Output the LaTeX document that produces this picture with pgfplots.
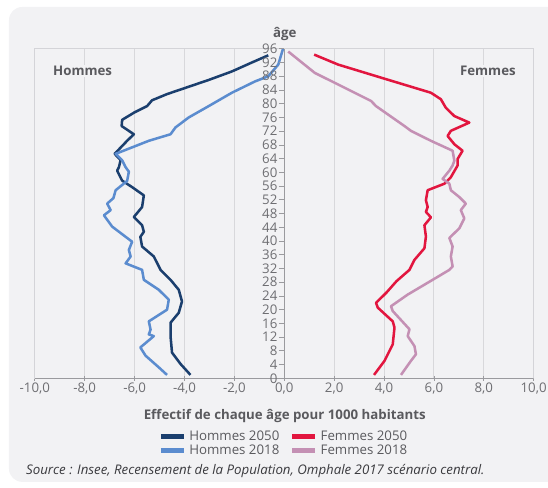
\documentclass[border=0pt]{standalone}
\usepackage{fontspec}
\setmainfont{Open Sans}
\usepackage{pgfplots}
\pgfplotsset{compat=1.18}
\definecolor{homA}{HTML}{1B3F6E}
\definecolor{homB}{HTML}{5B8CCF}
\definecolor{femA}{HTML}{E2163F}
\definecolor{femB}{HTML}{C490B4}
\definecolor{panel}{HTML}{F2F2F4}
\definecolor{gridc}{HTML}{D8D8DB}
\definecolor{framec}{HTML}{D4D4D8}
\definecolor{axisc}{HTML}{9A9A9E}
\definecolor{tickc}{HTML}{6E6E72}
\definecolor{labc}{HTML}{5A5A5E}
\definecolor{srcc}{HTML}{3A3A3E}
\begin{document}
\begin{tikzpicture}
\begin{scope}[x=0.75pt,y=-0.75pt,yshift=367.5pt]
\useasboundingbox (0,0) rectangle (548,490);
\fill[panel, rounded corners=10pt] (9,7) rectangle (575,484);
\end{scope}
\begin{axis}[
  at={(26.25pt,82.5pt)}, anchor=south west, scale only axis,
  width=375.75pt, height=248.25pt,
  xmin=-10, xmax=10, ymin=0, ymax=96,
  axis line style={draw=framec, line width=0.6pt},
  xtick={-10,-8,...,10},
  xticklabels={{-10,0},{-8,0},{-6,0},{-4,0},{-2,0},{0,0},{2,0},{4,0},{6,0},{8,0},{10,0}},
  ytick=\empty,
  xtick pos=bottom,
  tick align=center, major tick length=4pt,
  x tick style={draw=axisc, line width=0.6pt},
  xticklabel style={font=\fontsize{10}{12}\selectfont, text=tickc, inner sep=1pt},
  xmajorgrids, grid style={draw=gridc, line width=0.7pt},
  legend columns=2,
  legend cell align=left,
  legend style={draw=none, fill=none, at={(0.5,-0.15)}, anchor=north,
    font=\fontsize{10}{12}\selectfont, text=labc, inner sep=0pt,
    column sep=0.5pt, row sep=-2pt,
    /tikz/every even column/.append style={column sep=6pt}},
  legend image code/.code={\draw[line width=3.6pt] (0pt,0pt) -- (17pt,0pt);},
  every axis plot/.append style={line width=1.9pt, line join=round},
]
\addplot[homA] coordinates {
(-0.64,94.1) (-1.3,92) (-2.1,89.4) (-3.0,87) (-3.97,84.6) (-4.7,82.8) (-5.3,81)
(-5.5,79.3) (-6.0,77.5) (-6.5,75.3) (-6.52,73.5) (-6.03,71.1) (-6.3,69.2)
(-6.8,65.4) (-6.56,63.6) (-6.63,61.5) (-6.7,60.5) (-6.5,57.6) (-6.1,55.7)
(-5.63,53.3) (-5.7,49.9) (-6.03,47) (-5.7,44.6) (-5.63,42.7) (-5.77,41.2)
(-5.7,38.4) (-5.23,35.5) (-4.96,31.6) (-4.56,28.7) (-4.23,25.8) (-4.1,22.4)
(-4.23,19.1) (-4.56,16.2) (-4.56,12.3) (-4.5,7.5) (-4.16,4.2) (-3.76,1)
};
\addlegendentry{Hommes 2050}
\addplot[femA] coordinates {
(1.2,94.3) (2.16,91.4) (4.15,87) (5.88,83.2) (6.28,81.3) (6.48,78.8) (6.82,76.4)
(7.42,74.5) (6.68,72.1) (6.55,70.6) (6.82,68.2) (7.15,66.3) (6.95,63.9) (6.95,62)
(6.68,58.6) (6.42,56.7) (5.75,54.8) (5.68,51.9) (5.75,49.9) (5.68,48.5) (5.88,46.9)
(5.62,44.6) (5.68,41.3) (5.62,37.9) (5.22,34.5) (5.02,31.6) (4.5,28.3) (4.1,25)
(3.68,22) (3.75,20.6) (4.35,16.6) (4.42,14.8) (4.35,9.9) (4.02,5.1) (3.6,1)
};
\addlegendentry{Femmes 2050}
\addplot[homB] coordinates {
(-0.05,96) (-0.24,91.4) (-0.64,88) (-1.17,86.5) (-2.1,83.2) (-3.03,79.3)
(-3.83,76) (-4.36,73.1) (-4.56,71.1) (-5.43,69.2) (-6.76,65.4) (-6.5,63.5)
(-6.36,61.5) (-6.23,60.2) (-6.3,57.5) (-6.76,54.8) (-6.85,52.5) (-7.1,50.9) (-6.96,49)
(-7.23,47.5) (-6.9,44.2) (-6.1,39.8) (-6.23,37.4) (-6.16,35.5) (-6.36,33.5)
(-5.7,31.6) (-5.63,28.7) (-5.03,25.8) (-4.63,22.9) (-4.7,20) (-5.43,16.6)
(-5.36,14.2) (-5.43,12.8) (-5.23,12.3) (-5.77,9) (-5.56,6.6) (-5.03,3.2) (-4.7,1)
};
\addlegendentry{Hommes 2018}
\addplot[femB] coordinates {
(0.16,95.2) (1.22,89) (2.02,86.1) (3.48,80.8) (3.68,79.3) (4.82,73.5) (5.08,72.1)
(5.88,69.2) (6.75,66.3) (6.82,63.4) (6.75,62) (6.62,60.5) (6.35,58.1) (6.62,56.7)
(6.68,54.8) (7.02,52.8) (7.28,50.9) (7.08,49) (7.22,46.6) (7.02,43.7) (6.62,40.9)
(6.75,38.4) (6.68,35.5) (6.75,32.6) (6.62,31.6) (5.95,28.7) (4.95,24.4) (4.28,21)
(4.35,19.6) (5.02,14.3) (4.95,12.3) (5.22,9.4) (5.28,7) (5.08,5.1) (4.68,1)
};
\addlegendentry{Femmes 2018}
\draw[axisc, line width=0.7pt] (rel axis cs:0,0) -- (rel axis cs:1,0);
\end{axis}
\begin{axis}[
  at={(214.125pt,82.5pt)}, anchor=south west, scale only axis,
  width=187.875pt, height=248.25pt,
  xmin=0, xmax=1, ymin=0, ymax=96,
  axis y line*=left, axis x line=none,
  axis line style={draw=axisc, line width=0.7pt},
  ytick={0,4,...,96},
  yticklabels={0,4,8,12,16,20,24,28,32,36,40,44,48,52,56,60,64,68,72,76,80,84,88,92,96},
  tick align=outside, major tick length=4pt,
  y tick style={draw=axisc, line width=0.6pt},
  yticklabel style={font=\fontsize{10}{12}\selectfont, text=tickc, inner sep=1pt},
]
\end{axis}
\begin{scope}[x=0.75pt,y=-0.75pt,yshift=367.5pt]
\node[font=\bfseries\fontsize{10}{12}\selectfont, text=labc] at (286,34) {âge};
\node[font=\bfseries\fontsize{10}{12}\selectfont, text=labc, fill=panel, inner sep=1pt] at (83,71) {Hommes};
\node[font=\bfseries\fontsize{10}{12}\selectfont, text=labc, fill=panel, inner sep=1pt] at (490,71) {Femmes};
\node[font=\bfseries\fontsize{10}{12}\selectfont, text=labc] at (286,418) {Effectif de chaque âge pour 1000 habitants};
\node[anchor=west, font=\itshape\fontsize{10}{12}\selectfont, text=srcc, inner sep=0pt] at (26,473) {Source : Insee, Recensement de la Population, Omphale 2017 scénario central.};
\end{scope}
\end{tikzpicture}
\end{document}
